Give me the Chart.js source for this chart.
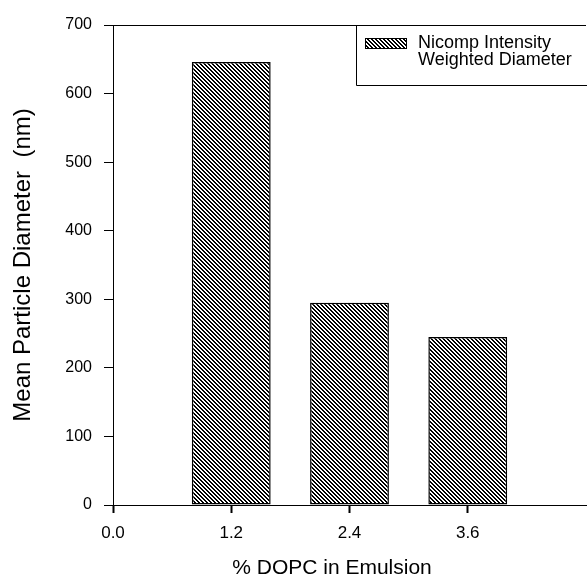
<!DOCTYPE html>
<html>
<head>
<meta charset="utf-8">
<script src="https://cdn.jsdelivr.net/npm/chart.js@4.4.1/dist/chart.umd.min.js"></script>
<style>
  html, body { margin: 0; padding: 0; background: #fff; }
</style>
</head>
<body>
<canvas id="myChart" width="587" height="581"></canvas>
<script>
// data
const dopcPercent = [1.2, 2.4, 3.6];
const meanDiameter = [646, 295, 245];
const legendLines = ["Nicomp Intensity", "Weighted Diameter"];
const xTickRange = [0, 4.8, 1.2];   // min, max, step
const yTickRange = [0, 700, 100];
const xAxisTitle = "% DOPC in Emulsion";
const yAxisTitle = "Mean Particle Diameter  (nm)";

Chart.defaults.font.family = "'Liberation Sans', Arial, sans-serif";
Chart.defaults.color = "#000";

const ctx = document.getElementById("myChart").getContext("2d");

// diagonal "\\\" hatch like the printed figure
const makeHatch = () => {
  const tile = document.createElement("canvas");
  tile.width = 4;
  tile.height = 4;
  const g = tile.getContext("2d");
  const img = g.createImageData(4, 4);
  for (let y = 0; y < 4; y++) {
    for (let x = 0; x < 4; x++) {
      const i = (y * 4 + x) * 4;
      const on = (((x - y) % 4) + 4) % 4 < 2;
      img.data[i] = img.data[i + 1] = img.data[i + 2] = on ? 0 : 255;
      img.data[i + 3] = 255;
    }
  }
  g.putImageData(img, 0, 0);
  return ctx.createPattern(tile, "repeat");
};
const hatch = makeHatch();

// boxed legend tucked into the top right corner
const legendBox = {
  id: "legendBox",
  afterDraw(chart) {
    const c = chart.ctx;
    const area = chart.chartArea;
    const left = area.right - 230;
    const top = area.top;
    const bottom = top + 60;
    c.save();
    c.strokeStyle = "#000";
    c.lineWidth = 1;
    c.beginPath();
    c.moveTo(left + 0.5, top);
    c.lineTo(left + 0.5, bottom + 0.5);
    c.lineTo(chart.width, bottom + 0.5);
    c.stroke();
    c.fillStyle = hatch;
    c.fillRect(left + 9, top + 13, 42, 11);
    c.strokeRect(left + 9.5, top + 13.5, 41, 10);
    c.fillStyle = "#000";
    c.font = "18px 'Liberation Sans', Arial, sans-serif";
    c.textBaseline = "middle";
    legendLines.forEach((line, i) => {
      c.fillText(line, left + 62, top + 18 + i * 17);
    });
    c.restore();
  }
};

const myChart = new Chart(ctx, {
  type: "bar",
  data: {
    datasets: [
      {
        label: legendLines.join(" "),
        data: dopcPercent.map((x, i) => ({ x: x, y: meanDiameter[i] })),
        backgroundColor: hatch,
        borderColor: "#000",
        borderWidth: 1.5,
        borderSkipped: false,
        barPercentage: 0.8 / 1.2,
        categoryPercentage: 1,
      },
    ],
  },
  options: {
    responsive: false,
    animation: false,
    layout: { padding: { top: 25, right: 1, left: 0, bottom: 0 } },
    plugins: {
      legend: { display: false },
      tooltip: { enabled: false },
    },
    scales: {
      x: {
        type: "linear",
        offset: false,
        min: xTickRange[0],
        max: xTickRange[1],
        ticks: {
          stepSize: xTickRange[2],
          padding: 10,
          font: { size: 17 },
          callback: (v) => (v > xTickRange[1] - 0.01 ? null : v.toFixed(1)),
        },
        grid: {
          offset: false,
          drawOnChartArea: false,
          color: "#000",
          tickColor: "#000",
          tickWidth: 2,
          tickLength: 8,
        },
        border: { color: "#000", width: 1 },
        title: {
          display: true,
          // trailing spaces nudge the centred title left, as printed
          text: xAxisTitle + "      ",
          font: { size: 21 },
          padding: { top: 0, bottom: 0 },
        },
        afterFit: (s) => { s.height = 76; },
      },
      y: {
        min: yTickRange[0],
        max: yTickRange[1],
        ticks: {
          stepSize: yTickRange[2],
          padding: 12,
          font: { size: 16 },
        },
        grid: {
          color: (c) => (c.tick && c.tick.value === yTickRange[1] ? "#000" : "transparent"),
          tickColor: "#000",
          tickLength: 9,
        },
        border: { color: "#000", width: 1 },
        title: {
          display: true,
          text: yAxisTitle,
          font: { size: 24 },
          padding: { top: 9, bottom: 0 },
        },
        afterFit: (s) => { s.width = 113; },
      },
    },
  },
  plugins: [legendBox],
});
</script>
</body>
</html>
